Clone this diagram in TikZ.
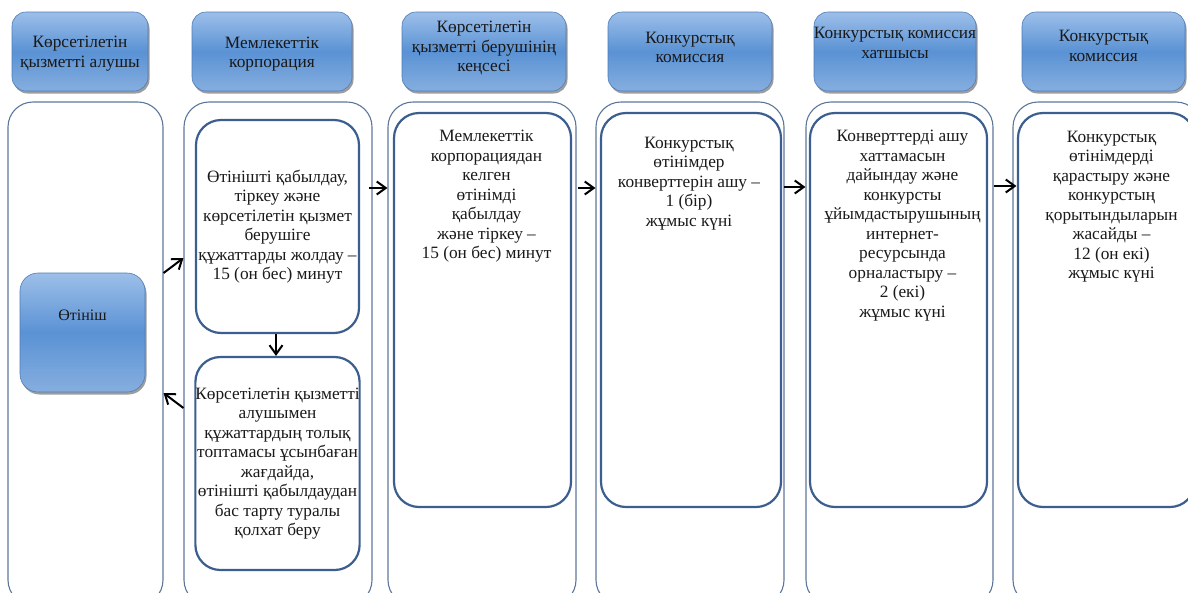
\documentclass[tikz,border=0pt]{standalone}
\usepackage{fontspec}
\setmainfont{Liberation Serif}
\usepackage{xcolor}
\usepackage{tikz}
\usetikzlibrary{arrows.meta}
\usetikzlibrary{shadows}
\usetikzlibrary{calc}
\definecolor{headlight}{HTML}{9DBFE9}
\definecolor{headmid}{HTML}{5A92D4}
\definecolor{headlow}{HTML}{86AEDF}
\definecolor{headedge}{HTML}{4D7DB8}
\definecolor{lanecolor}{HTML}{5C7699}
\definecolor{boxcolor}{HTML}{3B5E8E}

\begin{document}
\begin{tikzpicture}[x=1pt,y=-1pt,
    head/.style={draw=headedge,line width=0.6pt,rounded corners=14pt,
        top color=headlight,bottom color=headlow,middle color=headmid,
        drop shadow={shadow xshift=1.5pt,shadow yshift=-2.5pt,opacity=0.55,fill=black!70},
        inner sep=0pt},
    lane/.style={draw=lanecolor,line width=1.1pt,rounded corners=25pt,
        minimum height=503pt,inner sep=0pt},
    stage/.style={draw=boxcolor,line width=2.2pt,rounded corners=25pt,inner sep=0pt},
    txt/.style={align=center,inner sep=0pt,text=black!90,font=\fontsize{17.3}{19.5}\selectfont},
    arr/.style={line width=2pt,-{Straight Barb[length=9pt,width=13pt]}}]
\useasboundingbox (0,0) rectangle (1188,592);
\clip (0,0) rectangle (1188,592);

%% lanes
\foreach \n/\cx/\w in {1/85.5/155, 2/278/188, 3/482/188, 4/690/188, 5/899.5/187, 6/1107/188}
    \node[lane,minimum width=\w pt] (lane\n) at (\cx,353.5) {};

%% column heads
\foreach \n/\cx/\w/\ty/\htext in {1/80/136/53.5/{Көрсетілетін\\қызметті алушы},
        2/272/160/54/{Мемлекеттік\\корпорация},
        3/484/164/48/{Көрсетілетін\\қызметті берушінің\\кеңсесі},
        4/690/164/47.5/{Конкурстық\\комиссия},
        5/895/162/43/{Конкурстық комиссия\\хатшысы},
        6/1103.5/163/46/{Конкурстық\\комиссия}}
{
    \node[head,minimum width=\w pt,minimum height=79pt] (head\n) at (\cx,51.5) {};
    \node[txt] (htext\n) at (\cx,\ty) {\htext};
}

%% application
\node[head,rounded corners=18pt,minimum width=125pt,minimum height=119pt] (appl) at (82.5,332.5) {};
\node[txt,font=\fontsize{16}{19}\selectfont] (appltext) at (82.5,315) {Өтініш};

%% state corporation
\node[stage,txt,minimum width=163pt,minimum height=213pt] (boxA) at (277.5,226.5)
    {Өтінішті қабылдау,\\тіркеу және\\көрсетілетін қызмет\\берушіге\\құжаттарды жолдау –\\15 (он бес) минут};
\node[stage,txt,minimum width=163pt,minimum height=213pt] (boxB) at (277.5,463.5)
    {Көрсетілетін қызметті\\алушымен\\құжаттардың толық\\топтамасы ұсынбаған\\жағдайда,\\өтінішті қабылдаудан\\бас тарту туралы\\қолхат беру};

%% long stages
\node[stage,minimum width=177pt,minimum height=394pt] (boxC) at (482.5,310) {};
\node[stage,minimum width=180pt,minimum height=394pt] (boxD) at (691,310) {};
\node[stage,minimum width=177pt,minimum height=394pt] (boxE) at (898.5,310) {};
\node[stage,minimum width=177pt,minimum height=394pt] (boxF) at (1106.5,310) {};

\node[txt,anchor=north] (textC) at ($(boxC.north)+(4,18)$)
    {Мемлекеттік\\корпорациядан\\келген\\өтінімді\\қабылдау\\және тіркеу –\\15 (он бес) минут};
\node[txt,anchor=north] (textD) at ($(boxD.north)+(-2,25)$)
    {Конкурстық\\өтінімдер\\конверттерін ашу –\\1 (бір)\\жұмыс күні};
\node[txt,anchor=north] (textE) at ($(boxE.north)+(4,18)$)
    {Конверттерді ашу\\хаттамасын\\дайындау және\\конкурсты\\ұйымдастырушының\\интернет-\\ресурсында\\орналастыру –\\2 (екі)\\жұмыс күні};
\node[txt,anchor=north] (textF) at ($(boxF.north)+(5,19)$)
    {Конкурстық\\өтінімдерді\\қарастыру және\\конкурстың\\қорытындыларын\\жасайды –\\12 (он екі)\\жұмыс күні};

%% arrows
\draw[arr] (lane1.east |- 0,273) -- (lane2.west |- 0,258);
\draw[arr] (lane2.west |- 0,408) -- (lane1.east |- 0,393);
\draw[arr] (boxA.south -| 276,0) -- (boxB.north -| 276,0);
\draw[arr] ($(lane2.east |- 0,188)+(-4,0)$) -- (lane3.west |- 0,188);
\draw[arr] ($(lane3.east |- 0,188)+(1,0)$) -- (lane4.west |- 0,188);
\draw[arr] ($(lane4.east |- 0,187)+(-1,0)$) -- (lane5.west |- 0,187);
\draw[arr] (lane5.east |- 0,186) -- ($(lane6.west |- 0,186)+(4,0)$);
\end{tikzpicture}
\end{document}
